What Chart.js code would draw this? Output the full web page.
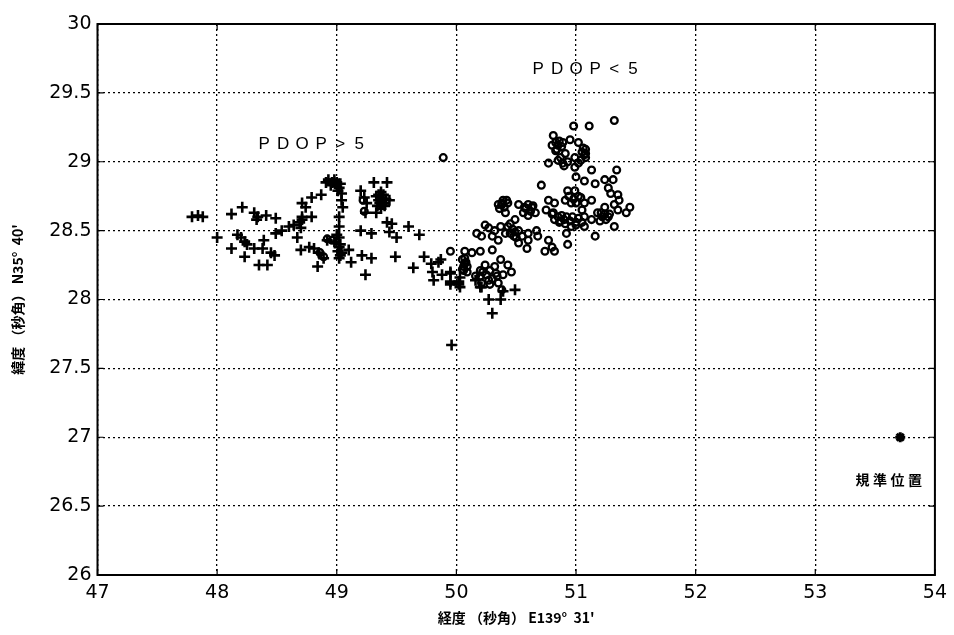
<!DOCTYPE html>
<html>
<head>
<meta charset="utf-8">
<script src="https://cdn.jsdelivr.net/npm/chart.js@4.4.0/dist/chart.umd.min.js"></script>
<style>
  html, body { margin: 0; padding: 0; background: #fff; }
  #wrap { width: 954px; height: 635px; }
</style>
</head>
<body>
<div id="wrap"><canvas id="posChart" width="954" height="635"></canvas></div>
<script>
// ==========================================
// Fix positions (seconds of arc): E139°31' / N35°40'
// ==========================================
const xTicks = [47, 48, 49, 50, 51, 52, 53, 54];
const yTicks = [26, 26.5, 27, 27.5, 28, 28.5, 29, 29.5, 30];

// PDOP > 5 fixes (plus markers)
const pdopHigh = [
  [47.79, 28.60], [47.84, 28.61], [47.88, 28.60], [48.00, 28.45], [48.12, 28.62], [48.21, 28.67],
  [48.17, 28.47], [48.20, 28.45], [48.23, 28.42], [48.25, 28.40], [48.12, 28.37], [48.23, 28.31],
  [48.31, 28.63], [48.33, 28.58], [48.34, 28.60], [48.31, 28.37], [48.38, 28.37], [48.39, 28.43],
  [48.35, 28.25], [48.42, 28.25], [48.41, 28.61], [48.49, 28.59], [48.45, 28.34], [48.48, 28.32],
  [48.49, 28.48], [48.54, 28.50], [48.60, 28.53], [48.64, 28.54], [48.69, 28.56], [48.71, 28.58],
  [48.70, 28.52], [48.67, 28.45], [48.71, 28.70], [48.79, 28.74], [48.74, 28.67], [48.79, 28.60],
  [48.71, 28.60], [48.87, 28.76], [48.70, 28.36], [48.77, 28.38], [48.81, 28.37], [48.85, 28.34],
  [48.89, 28.30], [48.84, 28.24], [48.91, 28.85], [48.96, 28.85], [49.00, 28.85], [49.02, 28.81],
  [48.93, 28.87], [48.98, 28.87], [49.00, 28.82], [49.03, 28.84], [48.95, 28.83], [49.01, 28.79],
  [49.04, 28.77], [49.04, 28.72], [49.05, 28.67], [49.02, 28.60], [49.02, 28.53], [49.00, 28.47],
  [48.92, 28.43], [48.98, 28.42], [49.02, 28.38], [49.04, 28.34], [49.02, 28.30], [49.02, 28.45],
  [49.03, 28.40], [49.01, 28.35], [49.03, 28.32], [49.10, 28.36], [49.12, 28.27], [49.21, 28.32],
  [49.29, 28.30], [49.24, 28.18], [49.20, 28.50], [49.29, 28.48], [49.20, 28.79], [49.23, 28.74],
  [49.25, 28.70], [49.24, 28.63], [49.31, 28.85], [49.42, 28.85], [49.35, 28.72], [49.40, 28.70],
  [49.44, 28.72], [49.37, 28.66], [49.33, 28.63], [49.33, 28.75], [49.36, 28.70], [49.38, 28.74],
  [49.40, 28.68], [49.37, 28.78], [49.34, 28.68], [49.39, 28.76], [49.41, 28.73], [49.35, 28.76],
  [49.38, 28.69], [49.42, 28.56], [49.46, 28.55], [49.44, 28.49], [49.50, 28.45], [49.49, 28.31],
  [49.60, 28.53], [49.69, 28.47], [49.64, 28.23], [49.73, 28.31], [49.79, 28.26], [49.80, 28.20],
  [49.81, 28.14], [49.88, 28.18], [49.87, 28.29], [49.95, 28.19], [49.95, 28.13], [49.95, 28.11],
  [50.02, 28.11], [50.03, 28.16], [49.96, 27.67], [49.85, 28.27], [49.95, 28.20], [50.02, 28.13],
  [50.03, 28.09], [50.16, 28.14], [50.20, 28.09], [50.27, 28.00], [50.30, 27.90], [50.37, 28.00],
  [50.39, 28.06], [50.49, 28.07], [50.21, 28.09]
];

// PDOP < 5 fixes (circle markers)
const pdopLow = [
  [49.89, 29.03], [49.95, 28.35], [48.92, 28.44], [48.96, 28.43], [48.86, 28.34], [48.89, 28.31],
  [49.23, 28.64], [49.22, 28.72],
  [50.81, 29.19], [50.98, 29.26], [51.11, 29.26], [51.32, 29.30],
  [50.83, 29.14], [50.89, 29.14], [50.95, 29.16], [51.02, 29.14], [51.08, 29.09], [51.08, 29.06],
  [50.84, 29.09], [50.91, 29.06], [50.99, 29.03], [51.04, 29.01], [50.85, 29.01], [50.77, 28.99],
  [50.89, 28.99], [50.99, 28.96], [51.02, 28.99], [51.00, 28.89], [51.13, 28.94], [51.34, 28.94],
  [50.85, 29.12], [50.83, 29.08], [51.05, 29.07], [51.07, 29.05], [50.93, 29.00], [50.90, 28.97],
  [50.86, 29.15], [50.88, 29.11], [51.06, 29.10], [51.08, 29.03], [50.87, 29.03], [50.80, 29.12],
  [50.71, 28.83],
  [51.07, 28.86], [51.16, 28.84], [51.24, 28.87], [51.31, 28.87], [51.27, 28.81], [51.29, 28.77],
  [51.35, 28.76], [51.36, 28.72], [51.45, 28.67], [51.42, 28.63], [51.35, 28.65], [51.32, 28.69],
  [51.24, 28.67], [51.21, 28.63], [51.27, 28.60], [51.32, 28.53], [51.16, 28.46], [51.07, 28.53],
  [51.13, 28.58], [51.05, 28.65], [50.96, 28.70], [50.91, 28.72], [50.93, 28.79], [50.99, 28.79],
  [51.02, 28.75], [51.07, 28.70], [51.13, 28.72], [50.77, 28.72], [50.82, 28.70], [50.75, 28.65],
  [50.81, 28.63], [50.85, 28.60], [50.91, 28.55], [50.96, 28.53], [50.92, 28.48], [51.00, 28.54],
  [50.77, 28.43], [50.80, 28.38], [50.74, 28.35], [50.82, 28.35], [50.93, 28.40],
  [50.98, 28.73], [51.00, 28.70], [51.04, 28.74], [50.94, 28.75],
  [51.22, 28.60], [51.25, 28.58], [51.20, 28.57], [51.28, 28.62], [51.24, 28.62], [51.18, 28.63],
  [50.82, 28.58], [50.86, 28.56], [50.90, 28.58], [50.95, 28.57], [51.00, 28.56], [51.05, 28.56],
  [50.88, 28.61], [50.80, 28.62], [50.87, 28.57], [50.92, 28.60], [50.97, 28.60], [51.02, 28.59],
  [51.07, 28.60],
  [50.38, 28.69], [50.41, 28.63], [50.52, 28.69], [50.57, 28.67], [50.63, 28.67], [50.66, 28.63],
  [50.60, 28.61], [50.49, 28.58], [50.43, 28.53], [50.49, 28.49], [50.55, 28.46], [50.60, 28.43],
  [50.59, 28.37], [50.52, 28.41], [50.48, 28.46], [50.41, 28.48], [50.37, 28.53], [50.32, 28.50],
  [50.27, 28.52], [50.24, 28.54], [50.17, 28.48], [50.21, 28.46], [50.30, 28.46], [50.35, 28.43],
  [50.30, 28.36], [50.20, 28.35], [50.13, 28.34], [50.07, 28.35], [50.68, 28.46], [50.67, 28.50],
  [50.60, 28.48],
  [50.38, 28.70], [50.40, 28.67], [50.36, 28.66], [50.43, 28.70], [50.39, 28.72], [50.42, 28.72],
  [50.35, 28.69],
  [50.58, 28.66], [50.62, 28.64], [50.64, 28.68], [50.56, 28.63], [50.60, 28.69],
  [50.45, 28.55], [50.47, 28.51], [50.52, 28.50], [50.50, 28.45], [50.45, 28.48],
  [50.05, 28.29], [50.06, 28.21], [50.09, 28.24], [50.20, 28.21], [50.24, 28.25], [50.28, 28.21],
  [50.32, 28.24], [50.37, 28.29], [50.43, 28.25], [50.46, 28.20], [50.39, 28.18], [50.34, 28.17],
  [50.27, 28.14], [50.20, 28.17], [50.16, 28.17], [50.21, 28.12], [50.28, 28.11], [50.35, 28.12],
  [50.38, 28.07], [50.08, 28.27], [50.06, 28.24], [50.07, 28.30], [50.07, 28.26], [50.09, 28.20],
  [50.05, 28.22],
  [50.22, 28.20], [50.25, 28.18], [50.30, 28.15], [50.33, 28.19]
];

// reference (true) position
const refPoint = [[53.71, 27.0]];

// text placed in data coordinates
const noteHigh = { text: 'PDOP>5', x: 48.79, y: 29.13 };
const noteLow = { text: 'PDOP<5', x: 51.08, y: 29.67 };
const noteRef = { text: '規準位置', x: 53.615, y: 26.69 };

const toXY = arr => arr.map(p => ({ x: p[0], y: p[1] }));

// draws a string with wide character spacing, centred on cx
function spacedText(ctx, str, cx, cy, step) {
    const n = str.length;
    for (let i = 0; i < n; i++) {
        ctx.fillText(str[i], cx + (i - (n - 1) / 2) * step, cy);
    }
}

// frame, inner tick marks and the text notes
const framePlugin = {
    id: 'frame',
    beforeDatasetsDraw(chart) {
        const { ctx, chartArea: a, scales } = chart;
        ctx.save();
        ctx.strokeStyle = '#000';
        ctx.lineWidth = 1.2;
        ctx.beginPath();
        yTicks.forEach(v => {
            const py = scales.y.getPixelForValue(v);
            ctx.moveTo(a.left, py); ctx.lineTo(a.left + 6, py);
            ctx.moveTo(a.right, py); ctx.lineTo(a.right - 6, py);
        });
        xTicks.forEach(v => {
            const px = scales.x.getPixelForValue(v);
            ctx.moveTo(px, a.bottom); ctx.lineTo(px, a.bottom - 6);
            ctx.moveTo(px, a.top); ctx.lineTo(px, a.top + 6);
        });
        ctx.stroke();
        ctx.lineWidth = 2;
        ctx.strokeRect(a.left, a.top, a.right - a.left, a.bottom - a.top);
        ctx.restore();
    },
    afterDatasetsDraw(chart) {
        const { ctx, scales } = chart;
        ctx.save();
        ctx.fillStyle = '#000';
        ctx.textAlign = 'center';
        ctx.textBaseline = 'middle';
        ctx.font = '17px "Liberation Sans", Arial, sans-serif';
        [noteHigh, noteLow].forEach(n => {
            spacedText(ctx, n.text, scales.x.getPixelForValue(n.x), scales.y.getPixelForValue(n.y), 19);
        });
        ctx.font = 'bold 14px "Noto Sans CJK JP", sans-serif';
        spacedText(ctx, noteRef.text, scales.x.getPixelForValue(noteRef.x), scales.y.getPixelForValue(noteRef.y), 17.5);
        ctx.restore();
    }
};

const tickFont = { family: '"DejaVu Sans", sans-serif', size: 19 };
const titleFont = { family: '"Noto Sans CJK JP", sans-serif', size: 14, weight: 'bold' };
const plainTick = v => String(v);

new Chart(document.getElementById('posChart'), {
    type: 'scatter',
    data: {
        datasets: [
            {
                label: 'PDOP>5',
                data: toXY(pdopHigh),
                pointStyle: 'cross',
                pointRadius: 5.5,
                borderWidth: 2.6,
                borderColor: '#000'
            },
            {
                label: 'PDOP<5',
                data: toXY(pdopLow),
                pointStyle: 'circle',
                pointRadius: 3.4,
                borderWidth: 2.3,
                borderColor: '#000',
                backgroundColor: 'rgba(255,255,255,0)'
            },
            {
                label: '規準位置',
                data: toXY(refPoint),
                pointStyle: 'star',
                pointRadius: 5,
                borderWidth: 3,
                borderColor: '#000'
            }
        ]
    },
    options: {
        responsive: false,
        animation: false,
        layout: { padding: { top: 24, right: 16, left: 0, bottom: 0 } },
        plugins: {
            legend: { display: false },
            tooltip: { enabled: false }
        },
        scales: {
            x: {
                type: 'linear',
                min: 47, max: 54,
                afterBuildTicks: s => { s.ticks = xTicks.map(v => ({ value: v })); },
                afterFit: s => { s.height = 60; },
                ticks: { color: '#000', font: tickFont, padding: 7, maxRotation: 0, callback: plainTick },
                grid: { color: '#000', lineWidth: 1.3, drawTicks: false },
                border: { display: false, dash: [2, 3] },
                title: {
                    display: true,
                    text: '経度 （秒角） E139°  31\'',
                    color: '#000',
                    font: titleFont,
                    padding: { top: 0, bottom: 9 }
                }
            },
            y: {
                type: 'linear',
                min: 26, max: 30,
                afterBuildTicks: s => { s.ticks = yTicks.map(v => ({ value: v })); },
                afterFit: s => { s.width = 97.5; },
                ticks: { color: '#000', font: tickFont, padding: 6, callback: plainTick },
                grid: { color: '#000', lineWidth: 1.3, drawTicks: false },
                border: { display: false, dash: [2, 3] },
                title: {
                    display: true,
                    text: '緯度 （秒角） N35°  40\'',
                    color: '#000',
                    font: titleFont,
                    padding: { top: 9, bottom: 0 }
                }
            }
        }
    },
    plugins: [framePlugin]
});
</script>
</body>
</html>
